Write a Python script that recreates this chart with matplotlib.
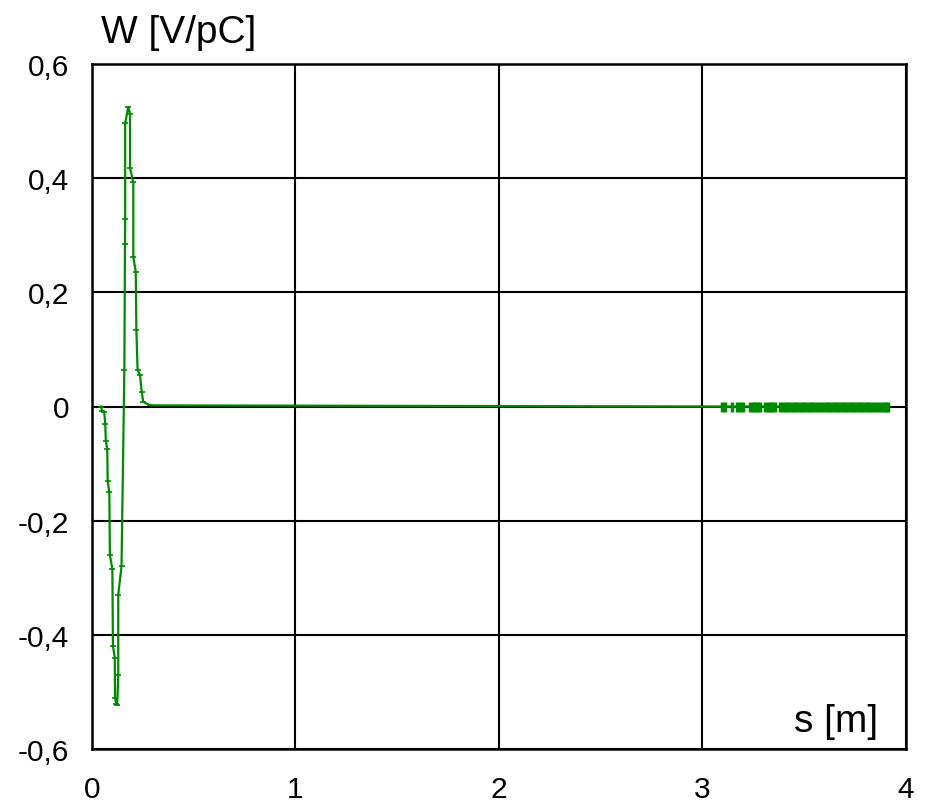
import matplotlib
matplotlib.use("Agg")
import matplotlib.pyplot as plt

plt.rcParams["font.family"] = ["Liberation Sans", "DejaVu Sans"]

# wake potential near the bunch (s in m, W in V/pC)
s_wake = [0.045, 0.050, 0.060, 0.065, 0.068, 0.075, 0.077, 0.085, 0.088, 0.100,
          0.103, 0.112, 0.113, 0.120, 0.124, 0.129, 0.129, 0.145, 0.159, 0.162,
          0.163, 0.163, 0.178, 0.187, 0.187, 0.203, 0.203, 0.215, 0.218, 0.224,
          0.236, 0.244, 0.252, 0.285]
w_wake = [0.000, -0.008, -0.010, -0.030, -0.060, -0.075, -0.130, -0.150, -0.260, -0.285,
          -0.420, -0.440, -0.510, -0.522, -0.523, -0.470, -0.330, -0.280, 0.064, 0.285,
          0.329, 0.496, 0.525, 0.513, 0.417, 0.393, 0.262, 0.236, 0.134, 0.064,
          0.055, 0.026, 0.008, 0.002]

# long-range tail samples
s_tail = [3.096, 3.110, 3.145, 3.170, 3.184, 3.199, 3.233, 3.248, 3.258, 3.273,
          3.283, 3.307, 3.322, 3.332, 3.342, 3.356, 3.380, 3.395, 3.410, 3.420,
          3.435, 3.450, 3.460, 3.475, 3.490, 3.500, 3.515, 3.530, 3.540, 3.555,
          3.570, 3.580, 3.595, 3.610, 3.620, 3.635, 3.650, 3.660, 3.675, 3.690,
          3.700, 3.715, 3.730, 3.740, 3.755, 3.770, 3.780, 3.795, 3.810, 3.820,
          3.835, 3.850, 3.860, 3.875, 3.890, 3.900, 3.910]
w_tail = [0.0] * len(s_tail)

x_ticks = [0, 1, 2, 3, 4]
y_ticks = [0.6, 0.4, 0.2, 0.0, -0.2, -0.4, -0.6]
y_tick_labels = ["0,6", "0,4", "0,2", "0", "-0,2", "-0,4", "-0,6"]

GREEN = "#008a00"

fig = plt.figure(figsize=(9.28, 8.04), dpi=100)
ax = fig.add_axes([92 / 928, 54 / 804, 814 / 928, 685 / 804])

ax.set_xlim(0, 4)
ax.set_ylim(-0.6, 0.6)
ax.set_xticks(x_ticks)
ax.set_yticks(y_ticks)
ax.set_yticklabels(y_tick_labels)
ax.tick_params(length=0, labelsize=21.5)
ax.tick_params(axis="x", pad=19)
ax.tick_params(axis="y", pad=16.5)
ax.grid(True, color="black", linewidth=1.5)
ax.set_axisbelow(True)
for sp in ax.spines.values():
    sp.set_linewidth(1.8)
    sp.set_color("black")

# continuous curve through wake and tail
ax.plot(s_wake + s_tail, w_wake + w_tail, color=GREEN, linewidth=1.6, zorder=3)
ax.plot(s_wake, w_wake, linestyle="none", marker="_", markersize=4,
        markeredgewidth=1.2, color=GREEN, zorder=3)
ax.plot(s_tail, w_tail, linestyle="none", marker="|", markersize=6.5,
        markeredgewidth=2.5, color=GREEN, zorder=3)

fig.text(101 / 928, 1 - 43 / 804, "W [V/pC]", fontsize=28, va="baseline", ha="left")
fig.text(878 / 928, 1 - 732 / 804, "s [m]", fontsize=28, va="baseline", ha="right")

fig.savefig("out.png", dpi=100)
